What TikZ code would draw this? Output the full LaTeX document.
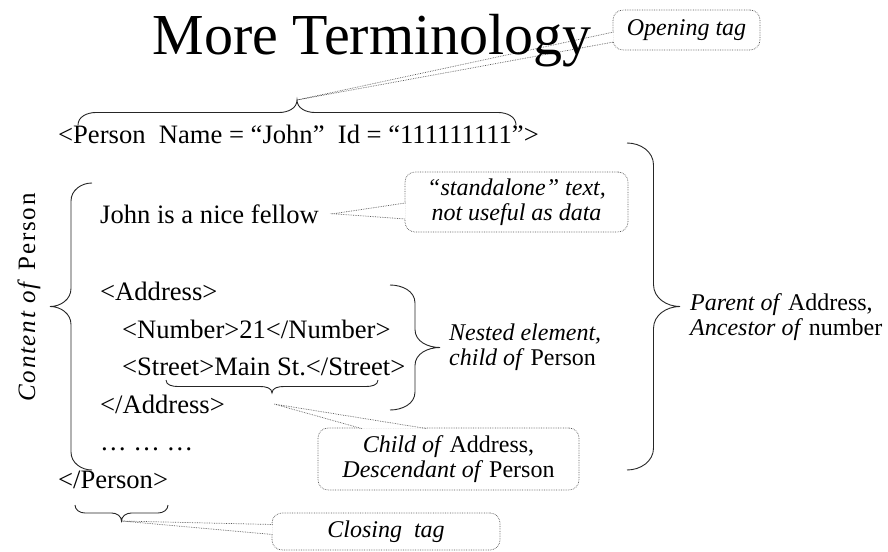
\documentclass[tikz,border=0pt]{standalone}
\usepackage{fontspec}
\setmainfont{Liberation Serif}
\usetikzlibrary{calc}

\begin{document}
\begin{tikzpicture}[
		x=1pt, y=1pt,
		code/.style = {anchor=base west, inner sep=0pt, font=\fontsize{26.6}{30}\selectfont},
		note/.style = {anchor=west, inner sep=0pt, align=left, font=\fontsize{24}{25}\selectfont},
		callbox/.style = {draw=black!65, densely dotted, line width=0.7pt, rounded corners=10pt,
				fill=white, align=center, inner sep=0pt, font=\fontsize{24}{25}\selectfont\itshape},
		callline/.style = {draw=black!65, densely dotted, line width=0.7pt, fill=white},
		curly/.style = {line width=0.9pt, black!85},
	]
	\useasboundingbox (0,0) rectangle (888,-551);

	% lines of the element
	\node[code] (person) at (58,-143) {<Person\ \ Name = “John”\ \ Id = “111111111”>};
	\node[code] (john) at (100,-223) {John is a nice fellow};
	\node[code] (addr) at (100,-300) {<Address>};
	\node[code] (number) at (122,-338) {<Number>21</Number>};
	\node[code] (street) at (122,-375) {<Street>Main St.</Street>};
	\node[code] (addrEnd) at (100,-413) {</Address>};
	\node[code] (dots) at (100,-450) {… … …};
	\node[code] (personEnd) at (58,-488) {</Person>};

	% brace tips
	\coordinate (openTip) at (297,-100);
	\coordinate (contentTip) at (50,-306.5);
	\coordinate (nestTip) at (440,-347.5);
	\coordinate (parentTip) at (680,-306.5);
	\coordinate (streetTip) at (272,-393);
	\coordinate (streetNote) at (274,-404);
	\coordinate (closeTip) at (121.5,-521);
	\coordinate (fellowTip) at ($(john.east)+(14,0)$);

	% callouts
	\node[callbox, minimum width=147pt, minimum height=40pt] (open) at (686.5,-30) {Opening tag};
	\node[callbox, minimum width=223pt, minimum height=60pt] (stand) at (516.5,-202) {“standalone” text,\\ not useful as data};
	\node[callbox, minimum width=261pt, minimum height=62pt] (child) at (448.5,-459) {Child of \textup{Address,}\\ Descendant of \textup{Person}};
	\node[callbox, minimum width=228pt, minimum height=37pt] (close) at (386,-531.5) {Closing\ \ tag};
	\filldraw[callline] ($(open.west)+(1,-2)$) -- (openTip) -- ($(open.west)+(1,-12)$);
	\filldraw[callline] ($(stand.west)+(1,-1)$) -- (fellowTip) -- ($(stand.west)+(1,-17)$);
	\filldraw[callline] ($(child.north)+(-86.5,-1)$) -- (streetNote) -- ($(child.north)+(-21.5,-1)$);
	\filldraw[callline] ($(close.west)+(1,7)$) -- (closeTip) -- ($(close.west)+(1,-3)$);

	% braces
	\draw[curly] (78,-125) to[out=90,in=180] (96,-112.5) -- (279,-112.5) to[out=0,in=-90] (openTip)
		to[out=-90,in=180] (315,-112.5) -- (498,-112.5) to[out=0,in=90] (516,-125);
	\draw[curly] (92,-183) to[out=180,in=90] (71,-201) -- (71,-288.5) to[out=-90,in=0] (contentTip)
		to[out=0,in=90] (71,-324.5) -- (71,-452) to[out=-90,in=180] (92,-470);
	\draw[curly] (627,-143) to[out=0,in=90] (653.5,-165) -- (653.5,-284.5) to[out=-90,in=180] (parentTip)
		to[out=180,in=90] (653.5,-328.5) -- (653.5,-448) to[out=-90,in=0] (627,-470);
	\draw[curly] (390,-285) to[out=0,in=90] (415,-303) -- (415,-329.5) to[out=-90,in=180] (nestTip)
		to[out=180,in=90] (415,-365.5) -- (415,-392) to[out=-90,in=0] (390,-410);
	\draw[curly] (166,-380) to[out=-90,in=180] (178,-386.5) -- (260,-386.5) to[out=0,in=90] (streetTip)
		to[out=90,in=180] (284,-386.5) -- (366,-386.5) to[out=0,in=-90] (378,-380);
	\draw[curly] (75,-505) to[out=-90,in=180] (85,-513) -- (111.5,-513) to[out=0,in=90] (closeTip)
		to[out=90,in=180] (131.5,-513) -- (158,-513) to[out=0,in=-90] (168,-505);

	% labels of the braces
	\node[note, anchor=center, rotate=90, font=\fontsize{25}{25}\selectfont\addfontfeature{LetterSpace=7}]
		(content) at (29,-297.5) {\textit{Content of}\ Person};
	\node[note] (nested) at (449,-347.5) {\textit{Nested element,}\\ \textit{child of}\ Person};
	\node[note] (parent) at (690,-317) {\textit{Parent of}\ Address,\\ \textit{Ancestor of}\ number};

	% title last, the pointer must not hide it
	\node[anchor=base, inner sep=0pt, font=\fontsize{58}{60}\selectfont] (title) at (372,-55) {More Terminology};
\end{tikzpicture}
\end{document}
